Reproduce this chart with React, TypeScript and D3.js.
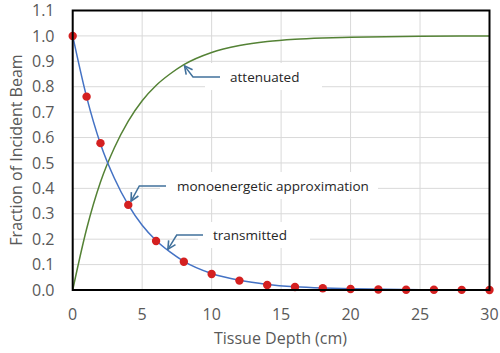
import * as d3 from "d3";
import React from "react";

// tissue depth in cm
const curveDepth = [0, 1, 2, 3, 4, 5, 6, 7, 8, 10, 12, 14, 16, 18, 20, 25, 30];
const transmitted = [1.0, 0.76, 0.575, 0.44, 0.335, 0.255, 0.195, 0.15, 0.113, 0.065, 0.038, 0.022, 0.013, 0.008, 0.005, 0.001, 0.0];
const attenuated = [0.0, 0.24, 0.425, 0.56, 0.665, 0.745, 0.805, 0.85, 0.887, 0.935, 0.962, 0.978, 0.987, 0.992, 0.995, 0.999, 1.0];

// monoenergetic approximation points
const monoDepth = [0, 1, 2, 4, 6, 8, 10, 12, 14, 16, 18, 20, 22, 24, 26, 28, 30];
const monoValue = [1.0, 0.761, 0.578, 0.335, 0.193, 0.111, 0.063, 0.037, 0.02, 0.012, 0.007, 0.004, 0.002, 0.001, 0.001, 0.0005, 0.0];

const xTicks = [0, 5, 10, 15, 20, 25, 30];
const yTicks = [0, 0.1, 0.2, 0.3, 0.4, 0.5, 0.6, 0.7, 0.8, 0.9, 1.0, 1.1];

const labels = [
  { text: "attenuated", tip: [8.05, 0.882] },
  { text: "monoenergetic approximation", tip: [4.2, 0.35] },
  { text: "transmitted", tip: [6.85, 0.16] },
];

const FONT = "'Open Sans', 'Noto Sans', sans-serif";

export default function App() {
  const x = d3.scaleLinear().domain([0, 30]).range([72.7, 489.5]);
  const y = d3.scaleLinear().domain([0, 1.1]).range([290, 10.5]);

  const line = d3
    .line<number>()
    .x((d, i) => x(curveDepth[i]))
    .y((d) => y(d))
    .curve(d3.curveMonotoneX);

  const blue = "#4472c4";
  const green = "#548235";
  const arrowCol = "#41719c";

  // label boxes, text start and arrow corner (pixel layout)
  const boxes = [
    { bx: 205, by: 63, bw: 117, bh: 27, tx: 230, ty: 77, cx: 193, lx: 220 },
    { bx: 160, by: 172, bw: 218, bh: 27, tx: 177, ty: 186, cx: 139.3, lx: 166 },
    { bx: 198, by: 222, bw: 112, bh: 26, tx: 213, ty: 235, cx: 176.7, lx: 203 },
  ];

  return (
    <svg
      width={500}
      height={353}
      style={{ position: "absolute", left: 0, top: 0, background: "#fff" }}
      fontFamily={FONT}
    >
      <defs>
        <marker id="ah" viewBox="0 0 10 10" refX="9" refY="5" markerWidth="10" markerHeight="10" markerUnits="userSpaceOnUse" orient="auto">
          <path d="M1,1 L9,5 L1,9" fill="none" stroke={arrowCol} strokeWidth={1.6} />
        </marker>
      </defs>
      {/* grid */}
      {yTicks.map((t) => (
        <line key={"gy" + t} x1={x(0)} x2={x(30)} y1={y(t)} y2={y(t)} stroke="#d9d9d9" strokeWidth={1} />
      ))}
      {xTicks.map((t) => (
        <line key={"gx" + t} x1={x(t)} x2={x(t)} y1={y(0)} y2={y(1.1)} stroke="#d9d9d9" strokeWidth={1} />
      ))}
      {/* label backgrounds */}
      {boxes.map((b, i) => (
        <rect key={"bg" + i} x={b.bx} y={b.by} width={b.bw} height={b.bh} fill="#fff" />
      ))}
      {/* curves */}
      <path d={line(attenuated) || ""} fill="none" stroke={green} strokeWidth={1.5} />
      <path d={line(transmitted) || ""} fill="none" stroke={blue} strokeWidth={1.5} />
      {monoDepth.map((d, i) => (
        <circle key={"m" + i} cx={x(d)} cy={y(monoValue[i])} r={4.2} fill="#d42020" />
      ))}
      {/* plot border */}
      <rect x={x(0)} y={y(1.1)} width={x(30) - x(0)} height={y(0) - y(1.1)} fill="none" stroke="#000" strokeWidth={2} />
      {/* annotations */}
      {labels.map((l, i) => {
        const b = boxes[i];
        return (
          <g key={"lab" + i}>
            <polyline
              points={`${b.lx},${b.ty} ${b.cx},${b.ty} ${x(l.tip[0])},${y(l.tip[1])}`}
              fill="none"
              stroke={arrowCol}
              strokeWidth={1.5}
              markerEnd="url(#ah)"
            />
            <text x={b.tx} y={b.ty} dy="0.35em" fontSize={13.5} fill="#262626">
              {l.text}
            </text>
          </g>
        );
      })}
      {/* axes labels */}
      {yTicks.map((t) => (
        <text key={"ty" + t} x={54.5} y={y(t)} dy="0.35em" textAnchor="end" fontSize={16} fill="#595959">
          {d3.format(".1f")(t)}
        </text>
      ))}
      {xTicks.map((t) => (
        <text key={"tx" + t} x={x(t)} y={314} dy="0.35em" textAnchor="middle" fontSize={16} fill="#595959">
          {t}
        </text>
      ))}
      <text x={280.5} y={338} dy="0.35em" textAnchor="middle" fontSize={16} fill="#595959">
        Tissue Depth (cm)
      </text>
      <text transform="translate(16,150) rotate(-90)" dy="0.35em" textAnchor="middle" fontSize={16} fill="#595959">
        Fraction of Incident Beam
      </text>
    </svg>
  );
}
